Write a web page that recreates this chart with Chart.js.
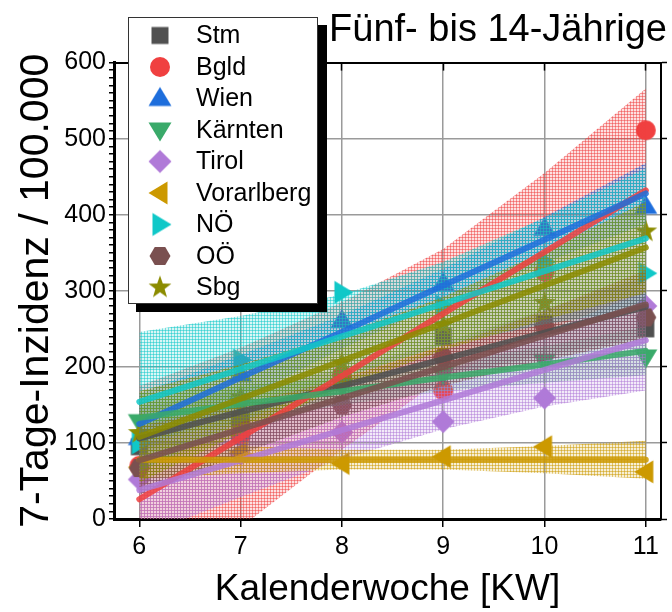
<!DOCTYPE html>
<html>
<head>
<meta charset="utf-8">
<script src="https://cdn.jsdelivr.net/npm/chart.js@4.4.0/dist/chart.umd.min.js"></script>
<style>
  html, body { margin: 0; padding: 0; background: #fff; }
  canvas { display: block; }
</style>
</head>
<body>
<canvas id="chart" width="672" height="612"></canvas>
<script>
// weeks and regions
var weeks = [6, 7, 8, 9, 10, 11];
var regions = ['Stm', 'Bgld', 'Wien', 'Kärnten', 'Tirol', 'Vorarlberg', 'NÖ', 'OÖ', 'Sbg'];
var yMajorTicks = [0, 100, 200, 300, 400, 500, 600];

// 7-day incidence per region, week 6..11
var incidence = [
    [95, 130, 185, 240, 257, 250],
    [70, 110, 189, 169, 325, 511],
    [107, 190, 261, 310, 382, 411],
    [128, 150, 175, 190, 207, 213],
    [52, 85, 114, 128, 159, 280],
    [68, 88, 73, 82, 95, 62],
    [100, 209, 298, 280, 338, 323],
    [67, 126, 150, 213, 254, 265],
    [113, 160, 205, 255, 284, 378],
];

// fitted lines
var fitLines = [
    [106, 141, 175, 210, 245, 279],
    [26, 107, 188, 270, 351, 432],
    [125, 186, 246, 307, 367, 428],
    [133, 151, 168, 186, 203, 221],
    [38, 77, 117, 156, 196, 235],
    [78, 78, 78, 78, 78, 78],
    [154, 197, 240, 283, 326, 369],
    [77, 118, 159, 200, 241, 282],
    [108, 158, 208, 257, 307, 357],
];

// confidence bands
var bandLower = [
    [66, 111, 153, 188, 215, 239],
    [-123, -11, 91, 185, 247, 298],
    [85, 156, 224, 285, 337, 388],
    [101, 127, 150, 168, 179, 189],
    [-24, 29, 79, 118, 148, 169],
    [53, 60, 65, 65, 60, 53],
    [62, 127, 185, 228, 256, 277],
    [32, 85, 134, 175, 208, 237],
    [48, 113, 173, 222, 262, 297],
];
var bandUpper = [
    [146, 171, 197, 232, 275, 319],
    [175, 225, 285, 355, 455, 566],
    [165, 216, 268, 329, 397, 468],
    [165, 175, 186, 204, 227, 253],
    [100, 125, 155, 194, 244, 301],
    [103, 96, 91, 91, 96, 103],
    [246, 267, 295, 338, 396, 461],
    [122, 151, 184, 225, 274, 327],
    [168, 203, 243, 292, 352, 417],
];

var colors = ['80,80,80', '240,64,64', '30,110,220', '58,170,106', '176,122,216',
              '204,153,0', '16,200,200', '122,80,80', '140,140,0'];
var shapes = ['square', 'circle', 'up', 'down', 'diamond', 'left', 'right', 'hexagon', 'star'];

var fontFamily = '"Liberation Sans", Arial, sans-serif';
var canvas = document.getElementById('chart');
var mainCtx = canvas.getContext('2d');

function makeMarker(shape, rgb) {
    var s = 28;
    var c = document.createElement('canvas');
    c.width = s; c.height = s;
    var g = c.getContext('2d');
    g.fillStyle = 'rgb(' + rgb + ')';
    g.translate(s / 2, s / 2);
    g.beginPath();
    if (shape == 'square') {
        g.rect(-8.5, -8.5, 17, 17);
    } else if (shape == 'circle') {
        g.arc(0, 0, 10, 0, Math.PI * 2);
    } else if (shape == 'diamond') {
        g.moveTo(0, -11.5); g.lineTo(11.5, 0); g.lineTo(0, 11.5); g.lineTo(-11.5, 0);
    } else if (shape == 'hexagon') {
        for (var k = 0; k < 6; k++) {
            var a = k * Math.PI / 3;
            g.lineTo(10.5 * Math.cos(a), 10.5 * Math.sin(a));
        }
    } else if (shape == 'star') {
        for (var k = 0; k < 10; k++) {
            var r = k % 2 ? 4.8 : 12;
            var a = -Math.PI / 2 + k * Math.PI / 5;
            g.lineTo(r * Math.cos(a), r * Math.sin(a));
        }
    } else {
        var rot = {up: 0, right: 90, down: 180, left: 270}[shape];
        g.rotate(rot * Math.PI / 180);
        g.moveTo(0, -11.5); g.lineTo(11.5, 7.5); g.lineTo(-11.5, 7.5);
    }
    g.closePath();
    g.fill();
    return c;
}

// fine cross-hatch for the confidence bands
function hatch(rgb) {
    var c = document.createElement('canvas');
    c.width = 3; c.height = 3;
    var g = c.getContext('2d');
    g.fillStyle = 'rgba(' + rgb + ',0.16)';
    g.fillRect(0, 0, 3, 3);
    g.fillStyle = 'rgba(' + rgb + ',0.5)';
    g.fillRect(0, 0, 3, 1);
    g.fillRect(0, 0, 1, 3);
    return mainCtx.createPattern(c, 'repeat');
}

function toPoints(values) {
    return weeks.map(function(w, j) { return {x: w, y: values[j]}; });
}

var datasets = [];
regions.forEach(function(name, i) {
    var rgb = colors[i];
    datasets.push({
        label: name,
        data: toPoints(incidence[i]),
        showLine: false,
        pointStyle: makeMarker(shapes[i], rgb),
        pointRadius: 10,
        pointHoverRadius: 10,
        order: 3 - i * 0.01,
        marker: true,
    });
    datasets.push({
        label: name + ' upper',
        data: toPoints(bandUpper[i]),
        borderWidth: 0,
        pointRadius: 0,
        backgroundColor: hatch(rgb),
        fill: '+1',
        order: 2 - i * 0.01,
    });
    datasets.push({
        label: name + ' lower',
        data: toPoints(bandLower[i]),
        borderWidth: 0,
        pointRadius: 0,
        fill: false,
        order: 2 - i * 0.01,
    });
    datasets.push({
        label: name + ' fit',
        data: toPoints(fitLines[i]),
        borderColor: 'rgba(' + rgb + ',0.85)',
        borderWidth: 6,
        borderCapStyle: 'round',
        pointRadius: 0,
        fill: false,
        order: 1 - i * 0.01,
    });
});

// legend box with drop shadow, drawn on top
var legendBox = {
    id: 'legendBox',
    afterDraw: function(chart) {
        var ctx = chart.ctx;
        var items = chart.data.datasets.filter(function(d) { return d.marker; });
        ctx.save();
        ctx.fillStyle = '#000';
        ctx.fillRect(136, 25, 191, 287);
        ctx.fillStyle = '#fff';
        ctx.fillRect(128, 17, 190, 287);
        ctx.strokeStyle = '#333';
        ctx.lineWidth = 1;
        ctx.strokeRect(128.5, 17.5, 189, 286);
        ctx.font = '25px ' + fontFamily;
        ctx.textBaseline = 'middle';
        items.forEach(function(d, i) {
            var y = 35.5 + i * 31.5;
            var img = d.pointStyle;
            ctx.drawImage(img, 160 - img.width / 2, y - img.height / 2);
            ctx.fillStyle = '#000';
            ctx.fillText(d.label, 196, y + 1);
        });
        ctx.restore();
    }
};

var tickFont = {family: fontFamily, size: 25};

new Chart(canvas, {
    type: 'line',
    data: {datasets: datasets},
    plugins: [legendBox],
    options: {
        responsive: false,
        animation: false,
        layout: {padding: {left: 0, right: 5, top: 0, bottom: 0}},
        plugins: {
            legend: {display: false},
            tooltip: {enabled: false},
            title: {
                display: true,
                text: 'Fünf- bis 14-Jährige',
                align: 'end',
                color: '#000',
                font: {family: fontFamily, size: 38, weight: 'normal'},
                padding: {top: 8, bottom: 4},
            },
        },
        scales: {
            x: {
                type: 'linear',
                min: 5.75,
                max: 11.15,
                afterBuildTicks: function(scale) {
                    scale.ticks = weeks.map(function(w) { return {value: w}; });
                },
                ticks: {color: '#000', font: tickFont, padding: 5},
                grid: {color: '#9a9a9a', lineWidth: 1.5, tickLength: 8, tickColor: '#000', tickWidth: 1.5},
                border: {color: '#000', width: 3},
                title: {
                    display: true,
                    text: 'Kalenderwoche [KW]',
                    color: '#000',
                    font: {family: fontFamily, size: 37},
                    padding: {top: 0, bottom: 0},
                },
                afterFit: function(scale) {
                    scale.height = 93;
                    scale.paddingLeft = 0;
                    scale.paddingRight = 0;
                },
            },
            x2: {
                type: 'linear',
                position: 'top',
                min: 5.75,
                max: 11.15,
                afterBuildTicks: function(scale) {
                    scale.ticks = weeks.map(function(w) { return {value: w}; });
                },
                ticks: {display: false},
                grid: {drawOnChartArea: false, tickLength: -8, tickColor: '#000', tickWidth: 1.5},
                border: {color: '#000', width: 2},
                afterFit: function(scale) {
                    scale.height = 5;
                    scale.paddingLeft = 0;
                    scale.paddingRight = 0;
                },
            },
            y: {
                min: 0,
                max: 600,
                ticks: {
                    stepSize: 10,
                    autoSkip: false,
                    color: '#000',
                    font: tickFont,
                    padding: 3,
                    callback: function(v) { return yMajorTicks.indexOf(v) >= 0 ? v : ''; },
                },
                grid: {
                    color: function(ctx) {
                        return ctx.tick && yMajorTicks.indexOf(ctx.tick.value) >= 0 ? '#9a9a9a' : 'rgba(0,0,0,0)';
                    },
                    lineWidth: 1.5,
                    tickColor: '#000',
                    tickLength: 5,
                    tickWidth: 1.5,
                },
                border: {color: '#000', width: 3},
                title: {
                    display: true,
                    text: '7-Tage-Inzidenz / 100.000',
                    color: '#000',
                    font: {family: fontFamily, size: 41},
                    padding: {top: 12, bottom: 0},
                },
                afterFit: function(scale) { scale.width = 114; },
            },
            y2: {
                position: 'right',
                min: 0,
                max: 600,
                ticks: {display: false, stepSize: 100},
                grid: {drawOnChartArea: false, tickLength: 6, tickColor: '#000', tickWidth: 1.5},
                border: {color: '#000', width: 2},
                afterFit: function(scale) { scale.width = 0; },
            },
        },
    },
});
</script>
</body>
</html>
